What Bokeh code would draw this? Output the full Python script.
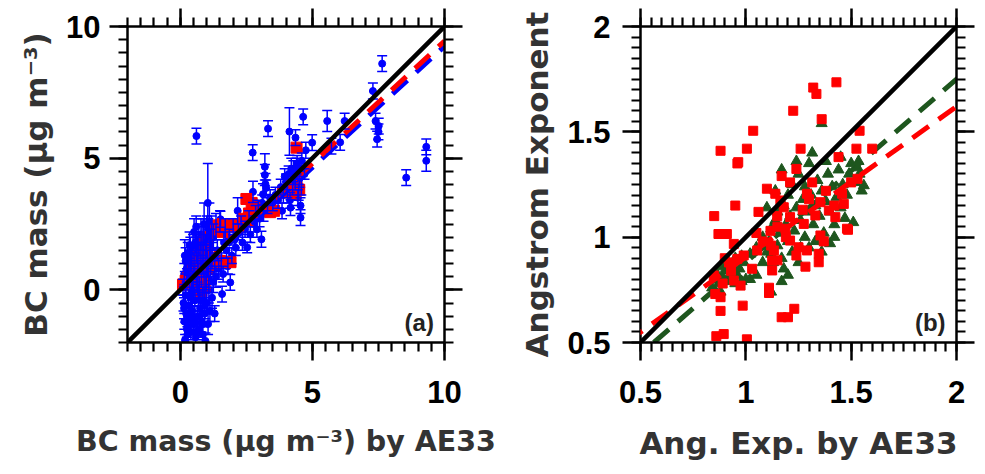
from bokeh.plotting import figure
from bokeh.layouts import row
from bokeh.models import (ColumnDataSource, Whisker, TeeHead, LinearAxis, FixedTicker,
                          Range1d, Label, Slope, CustomLabelingPolicy)
from bokeh.embed import file_html
from bokeh.resources import INLINE

# ---------------- Panel (a) data: BC mass ----------------
blue_x = [0.10, 0.12, 0.15, 0.15, 0.18, 0.20, 0.20, 0.22, 0.25, 0.25, 0.28, 0.30, 0.30, 0.32,
          0.35, 0.35, 0.38, 0.40, 0.40, 0.42, 0.45, 0.45, 0.48, 0.50, 0.50, 0.52, 0.55, 0.55,
          0.58, 0.60, 0.60, 0.62, 0.65, 0.65, 0.68, 0.70, 0.70, 0.72, 0.75, 0.75, 0.78, 0.80,
          0.80, 0.82, 0.85, 0.85, 0.88, 0.90, 0.90, 0.92, 0.95, 0.95, 0.98, 1.00, 1.00, 1.02,
          1.04, 1.05, 1.08, 1.10, 1.10, 1.12, 1.15, 1.18, 1.20, 1.20, 1.25, 1.25, 1.30, 1.30,
          1.35, 1.35, 1.40, 1.45, 1.50, 1.52, 1.55, 1.58, 1.62, 1.65, 1.70, 1.75, 1.80, 1.85,
          1.89, 1.95, 2.00, 2.05, 2.10, 2.17, 2.20, 2.30, 2.35, 2.45, 2.53, 2.60, 2.65, 2.74,
          2.75, 2.80, 2.85, 2.90, 2.95, 3.00, 3.07, 3.10, 3.13, 3.15, 3.20, 3.20, 3.22, 3.25,
          3.30, 3.32, 3.40, 3.50, 3.60, 3.70, 3.80, 3.85, 3.90, 4.00, 4.05, 4.10, 4.13, 4.17,
          4.20, 4.25, 4.30, 4.36, 4.40, 4.45, 4.50, 4.55, 4.55, 4.60, 4.65, 4.70, 4.75, 4.99,
          5.56, 5.72, 6.22, 7.29, 7.39, 7.51, 7.45, 7.64, 8.55, 9.31, 9.31, 0.61, 0.19, 0.28,
          0.33, 0.42, 0.57, 0.66, 0.73, 0.86, 0.93, 1.06, 0.38, 0.52, 0.78, 0.97, 4.28, 4.35,
          4.48, 4.52, 4.15, 3.95, 4.42, 4.58, 7.50, 6.05, 0.14, 0.24, 0.44, 0.64, 0.84, 1.14,
          0.27, 0.47, 0.67, 0.87, 1.07, 0.17]
blue_y = [0.10, -0.50, -1.20, 0.60, -1.90, -0.20, 1.10, -0.90, 0.40, -1.50, 1.40, -0.60, 0.90,
          -1.10, 0.20, 1.70, -0.30, -1.60, 0.70, 1.20, -0.80, 0.00, 1.50, -1.30, 0.50, 2.20,
          -0.40, 1.00, -1.80, 0.30, 2.40, 1.60, -1.00, 0.80, -0.20, 1.90, -1.50, 0.10, 1.30,
          -0.70, 2.10, -1.20, 0.60, 1.70, -0.30, -1.70, 1.10, 0.20, 2.50, -0.90, 1.50, -1.94,
          0.50, -0.50, 2.00, 1.00, 3.30, -1.30, 0.00, 1.70, 2.60, -0.80, 0.70, 2.20, -0.30,
          1.30, 0.30, 2.00, 1.00, -0.90, 0.50, 2.40, 1.50, 0.80, 2.60, 2.68, 1.20, -0.16, 0.60,
          1.80, 2.30, 1.50, 0.90, 2.00, 0.28, 1.30, 2.40, 1.90, 1.60, 3.00, 2.20, 2.50, 1.80,
          2.30, 1.61, 2.70, 2.10, 5.21, 3.72, 2.50, 2.90, 2.30, 3.10, 2.70, 1.92, 3.30, 3.63,
          2.90, 4.67, 4.36, 4.02, 3.87, 3.20, 6.12, 3.50, 3.30, 3.60, 3.40, 3.90, 3.00, 3.60,
          4.10, 3.80, 4.40, 6.01, 3.12, 4.60, 3.90, 4.30, 5.78, 4.70, 3.50, 4.20, 2.74, 3.20,
          4.90, 6.57, 4.40, 5.30, 5.59, 6.41, 5.46, 6.41, 7.55, 6.41, 6.22, 5.72, 8.59, 4.26,
          5.43, 4.90, 5.84, -1.94, -1.40, 0.95, -0.10, 1.80, 0.40, -1.00, 0.90, -0.60, 2.30,
          1.40, -1.10, -0.40, 0.30, 4.50, 4.10, 3.70, 4.60, 3.40, 4.30, 4.80, 3.90, 6.00, 5.60,
          -0.70, 0.80, -1.00, -1.60, -1.30, 1.60, -1.70, 0.20, 1.20, 2.00, 0.40, 1.30]
blue_err = [0.3, 0.3, 0.3, 0.4, 0.2, 0.3, 0.5, 0.3, 0.4, 0.3, 0.4, 0.4, 0.5, 0.3, 0.4, 0.5,
            0.3, 0.3, 0.4, 0.5, 0.3, 0.4, 0.6, 0.3, 0.4, 0.5, 0.4, 0.5, 0.3, 0.4, 0.4, 0.6,
            0.4, 0.5, 0.4, 0.6, 0.3, 0.4, 0.5, 0.4, 0.6, 0.4, 0.5, 0.7, 0.4, 0.3, 0.6, 0.5,
            0.8, 0.4, 0.6, 0.3, 0.5, 0.4, 0.8, 0.5, 1.5, 0.4, 0.5, 0.6, 0.7, 0.4, 0.5, 0.6,
            0.4, 0.5, 0.4, 0.5, 0.4, 0.3, 0.4, 0.5, 0.4, 0.4, 0.4, 0.3, 0.4, 0.3, 0.3, 0.4,
            0.4, 0.3, 0.3, 0.3, 0.3, 0.3, 0.3, 0.3, 0.3, 0.5, 0.3, 0.3, 0.3, 0.3, 0.2, 0.3,
            0.3, 0.3, 0.4, 0.3, 0.3, 0.3, 0.3, 0.3, 0.3, 0.3, 0.4, 0.3, 0.5, 0.4, 0.4, 0.3,
            0.3, 0.3, 0.3, 0.3, 0.3, 0.3, 0.3, 0.3, 0.3, 0.3, 0.3, 0.3, 0.9, 0.3, 0.4, 0.3,
            0.3, 0.3, 0.3, 0.3, 0.3, 0.3, 0.3, 0.3, 0.3, 0.2, 0.3, 0.3, 0.4, 0.3, 0.3, 0.3,
            0.3, 0.3, 0.3, 0.3, 0.3, 0.3, 0.4, 0.3, 0.7, 0.3, 0.4, 0.5, 0.4, 0.6, 0.4, 0.3,
            0.5, 0.4, 0.6, 0.5, 0.4, 0.4, 0.4, 0.3, 0.3, 0.3, 0.3, 0.3, 0.3, 0.3, 0.3, 0.3,
            0.4, 0.5, 0.4, 0.3, 0.4, 0.7, 0.3, 0.5, 0.6, 0.7, 0.5, 0.6]
red_a_x = [0.10, 0.20, 0.30, 0.40, 0.50, 0.60, 0.70, 0.80, 0.90, 0.95, 1.00, 1.00, 0.80, 0.80,
           1.10, 1.30, 1.50, 1.70, 1.90, 1.50, 1.60, 1.80, 1.95, 2.40, 2.60, 2.70, 2.80, 3.40,
           3.55, 3.90, 4.10, 4.30, 4.40, 4.50, 4.40, 0.50, 0.60, 2.20, 3.00, 0.95, 1.05, 2.50,
           0.90, 1.00, 1.05, 1.20, 1.40, 1.60, 1.35, 1.45, 0.75, 0.85, 0.45, 2.55, 2.75, 4.20,
           4.35, 0.70, 0.92]
red_a_y = [0.20, 0.35, 0.50, 0.55, 0.90, 1.10, 1.30, 1.00, 1.50, 1.80, 2.00, 1.30, -0.05, 0.25,
           1.10, 1.05, 1.10, 1.05, 1.05, 2.30, 2.50, 2.40, 2.50, 2.70, 2.90, 3.30, 3.10, 2.95,
           3.00, 3.70, 3.80, 3.75, 3.90, 3.80, 5.40, 0.30, 0.60, 2.40, 3.00, 1.10, 0.80, 3.45,
           1.80, 1.65, 1.20, 1.00, 1.05, 2.20, 2.30, 2.45, 1.10, 0.60, 0.70, 2.60, 3.20, 3.95,
           3.65, 0.90, 0.10]
fit_a_x = [0.0, 10.0]        # range of the fitted lines
fit_a_red = (0.15, 0.93)     # intercept, slope
fit_a_blue = (0.05, 0.92)

# ---------------- Panel (b) data: Angstrom exponent ----------------
tri_x = [0.84, 0.85, 0.86, 0.87, 0.88, 0.89, 0.90, 0.91, 0.92, 0.93, 0.94, 0.95, 0.96, 0.97,
         0.98, 0.99, 1.00, 1.02, 1.05, 1.08, 1.10, 1.11, 1.12, 1.12, 1.13, 1.14, 1.15, 1.15,
         1.16, 1.17, 1.17, 1.18, 1.18, 1.19, 1.20, 1.20, 1.21, 1.22, 1.22, 1.23, 1.24, 1.25,
         1.25, 1.26, 1.27, 1.28, 1.28, 1.29, 1.30, 1.30, 1.31, 1.32, 1.315, 1.33, 1.34, 1.35,
         1.36, 1.36, 1.37, 1.38, 1.39, 1.40, 1.40, 1.41, 1.42, 1.43, 1.44, 1.45, 1.46, 1.47,
         1.48, 1.49, 1.50, 1.51, 1.52, 1.53, 1.535, 1.54, 1.55, 1.56, 1.08, 1.05, 1.12, 1.17,
         1.24, 1.38, 1.45, 0.95, 0.98, 0.88, 1.20, 1.10, 1.14, 1.26, 1.33, 1.02, 1.36, 1.42]
tri_y = [0.76, 0.80, 0.83, 0.78, 0.86, 0.81, 0.84, 0.88, 0.79, 0.83, 0.86, 0.90, 0.82, 0.85,
         0.91, 0.88, 0.80, 0.92, 0.95, 1.00, 0.93, 0.98, 1.04, 0.74, 0.88, 1.08, 0.96, 1.12,
         1.02, 0.79, 0.90, 1.15, 0.85, 1.06, 0.98, 1.20, 1.10, 0.93, 1.25, 1.03, 1.14, 1.30,
         0.88, 1.08, 1.18, 1.00, 1.24, 1.12, 1.35, 0.95, 1.20, 1.06, 1.40, 1.15, 1.27, 1.10,
         1.22, 1.54, 1.02, 1.17, 1.30, 0.97, 1.12, 1.24, 1.06, 1.19, 1.32, 1.14, 1.25, 1.09,
         1.20, 1.30, 1.35, 1.07, 1.26, 1.33, 1.36, 1.30, 1.22, 1.245, 0.88, 0.82, 0.92, 1.32,
         1.36, 1.36, 1.38, 0.78, 0.79, 0.74, 0.82, 1.14, 1.22, 0.95, 0.98, 0.80, 0.93, 1.00]
sq_x = [1.43, 1.32, 1.335, 1.225, 1.36, 1.035, 1.54, 0.88, 1.005, 0.96, 1.26, 1.525, 1.60,
        1.44, 0.95, 0.85, 0.87, 0.91, 1.05, 1.485, 1.11, 0.985, 0.88, 1.17, 1.20, 1.23, 0.86,
        0.895, 1.005, 0.855, 0.88, 0.964, 1.24, 1.17, 1.10, 1.14, 1.21, 1.315, 1.29, 1.354,
        1.457, 1.465, 1.53, 1.18, 1.149, 1.275, 1.33, 1.394, 1.425, 1.48, 1.117, 1.133, 1.25,
        1.24, 1.346, 1.346, 1.283, 1.125, 1.125, 1.03, 0.96, 0.943, 0.99, 0.943, 0.975, 0.848,
        1.054, 1.164, 1.188, 1.11, 1.21, 1.29, 1.354, 1.21, 0.92, 0.90, 1.08, 1.15, 1.19,
        1.30, 1.38, 1.42, 1.50, 1.12, 1.27, 0.93, 1.37, 1.15, 1.06, 0.89]
sq_y = [1.735, 1.71, 1.68, 1.60, 1.56, 1.505, 1.505, 1.41, 1.42, 1.35, 1.42, 1.42, 1.42,
        1.38, 1.15, 1.10, 1.015, 1.015, 1.02, 1.035, 0.735, 0.675, 0.65, 0.62, 0.62, 0.66,
        0.53, 0.54, 0.515, 0.73, 0.715, 1.356, 1.324, 1.29, 1.23, 1.206, 1.26, 1.26, 1.206,
        1.166, 1.206, 1.158, 1.277, 1.142, 1.10, 1.063, 1.103, 1.127, 1.095, 1.04, 1.03,
        0.937, 0.952, 0.913, 0.921, 0.881, 0.86, 0.842, 0.889, 0.85, 0.897, 0.968, 0.913,
        0.794, 0.77, 0.818, 0.937, 1.174, 1.04, 0.76, 1.095, 0.937, 1.008, 0.984, 0.88,
        0.90, 0.98, 1.05, 1.00, 1.18, 1.22, 1.15, 1.26, 0.96, 1.13, 0.84, 0.98, 0.89, 1.12, 0.78]
fit_b_red = (0.192, 0.714)
fit_b_green = (0.010, 0.870)

TICK_FONT = "Liberation Sans"
TITLE_FONT = "DejaVu Sans"
TITLE_COLOR = "#333333"
BLUE = "#0000FF"
RED = "#FF0000"
GREEN = "#1E561E"


def style(p, xmaj, xmin, ymaj, ymin, fmt, ylab_standoff, xtitle_size):
    p.xaxis.visible = False
    p.yaxis.visible = False
    axes = {}
    for side in ("below", "left", "above", "right"):
        ax = LinearAxis()
        if side in ("below", "above"):
            ax.ticker = FixedTicker(ticks=xmaj, minor_ticks=xmin)
        else:
            ax.ticker = FixedTicker(ticks=ymaj, minor_ticks=ymin)
        ax.axis_line_width = 2.5
        ax.axis_line_color = "black"
        ax.major_tick_line_width = 2.5
        ax.minor_tick_line_width = 2.2
        ax.major_tick_out = 18
        ax.major_tick_in = 0
        ax.minor_tick_out = 9
        ax.minor_tick_in = 0
        ax.major_label_text_font = TICK_FONT
        ax.major_label_text_font_style = "bold"
        ax.major_label_text_font_size = "31px"
        ax.major_label_text_color = "black"
        ax.major_label_overrides = fmt
        ax.axis_label_text_font = TITLE_FONT
        ax.axis_label_text_font_style = "bold"
        ax.axis_label_text_font_size = "31px"
        ax.axis_label_text_color = TITLE_COLOR
        if side in ("above", "right"):
            ax.major_label_text_font_size = "0px"
            ax.major_label_standoff = 0
            ax.major_label_policy = CustomLabelingPolicy(code="return new Set()")
        if side == "below":
            ax.major_label_standoff = 20
            ax.axis_label_standoff = 19
            ax.axis_label_text_font_size = xtitle_size
        if side == "left":
            ax.major_label_standoff = ylab_standoff
            ax.axis_label_standoff = 9
        p.add_layout(ax, side)
        axes[side] = ax
    p.xgrid.visible = False
    p.ygrid.visible = False
    p.outline_line_color = None
    p.background_fill_color = "white"
    p.border_fill_color = "white"
    return axes


# ---------------- Panel (a) ----------------
pa = figure(width=500, height=474, output_backend="svg", toolbar_location=None,
            x_range=Range1d(-2, 10), y_range=Range1d(-2, 10),
            min_border_left=127, min_border_right=56, min_border_top=26, min_border_bottom=132)
ax_a = style(pa, [0, 5, 10], [v * 0.5 for v in range(-4, 21)],
             [0, 5, 10], [v * 0.5 for v in range(-4, 21)], {}, 9, "28.5px")
ax_a["below"].axis_label = "BC mass (μg m⁻³) by AE33"
ax_a["left"].axis_label = "BC mass (μg m⁻³)"

src_blue = ColumnDataSource(dict(x=blue_x, y=blue_y,
                                 lo=[y - e for y, e in zip(blue_y, blue_err)],
                                 hi=[y + e for y, e in zip(blue_y, blue_err)]))
wh = Whisker(source=src_blue, base="x", lower="lo", upper="hi", dimension="height",
             line_color=BLUE, line_width=1.5,
             lower_head=TeeHead(size=10, line_color=BLUE, line_width=1.5),
             upper_head=TeeHead(size=10, line_color=BLUE, line_width=1.5), level="glyph")
pa.add_layout(wh)
pa.scatter("x", "y", source=src_blue, marker="circle", size=7, color=BLUE)
pa.scatter(red_a_x, red_a_y, marker="square", size=11, color=RED)
pa.add_layout(Slope(gradient=1, y_intercept=0, line_color="black", line_width=4.5))
pa.line(fit_a_x, [fit_a_blue[0] + fit_a_blue[1] * x for x in fit_a_x], line_color=BLUE,
        line_width=5, line_dash="20 12")
pa.line(fit_a_x, [fit_a_red[0] + fit_a_red[1] * x for x in fit_a_x], line_color=RED,
        line_width=5, line_dash="20 12")
pa.add_layout(Label(x=9.6, y=-1.75, text="(a)", text_align="right", text_baseline="bottom",
                    text_font=TICK_FONT, text_font_style="bold", text_font_size="24px",
                    text_color="#222222"))

# ---------------- Panel (b) ----------------
pb = figure(width=485, height=474, output_backend="svg", toolbar_location=None,
            x_range=Range1d(0.5, 2), y_range=Range1d(0.5, 2),
            min_border_left=140, min_border_right=29, min_border_top=26, min_border_bottom=132)
fmt_b = {0.5: "0.5", 1: "1", 1.5: "1.5", 2: "2"}
ax_b = style(pb, [0.5, 1, 1.5, 2], [0.5 + 0.05 * i for i in range(31)],
             [0.5, 1, 1.5, 2], [0.5 + 0.05 * i for i in range(31)], fmt_b, 12, "31px")
ax_b["below"].axis_label = "Ang. Exp. by AE33"
ax_b["left"].axis_label = "Angstrom Exponent"

pb.add_layout(Slope(gradient=fit_b_green[1], y_intercept=fit_b_green[0], line_color=GREEN,
                    line_width=5, line_dash="20 12", level="underlay"))
pb.scatter(tri_x, tri_y, marker="triangle", size=11, color=GREEN)
pb.scatter(sq_x, sq_y, marker="square", size=9, color=RED)
pb.add_layout(Slope(gradient=fit_b_red[1], y_intercept=fit_b_red[0], line_color=RED,
                    line_width=5, line_dash="20 12"))
pb.add_layout(Slope(gradient=1, y_intercept=0, line_color="black", line_width=4.5))
pb.add_layout(Label(x=1.948, y=0.53, text="(b)", text_align="right", text_baseline="bottom",
                    text_font=TICK_FONT, text_font_style="bold", text_font_size="24px",
                    text_color="#222222"))

layout = row(pa, pb)
open("out.html", "w").write(file_html(layout, INLINE))
